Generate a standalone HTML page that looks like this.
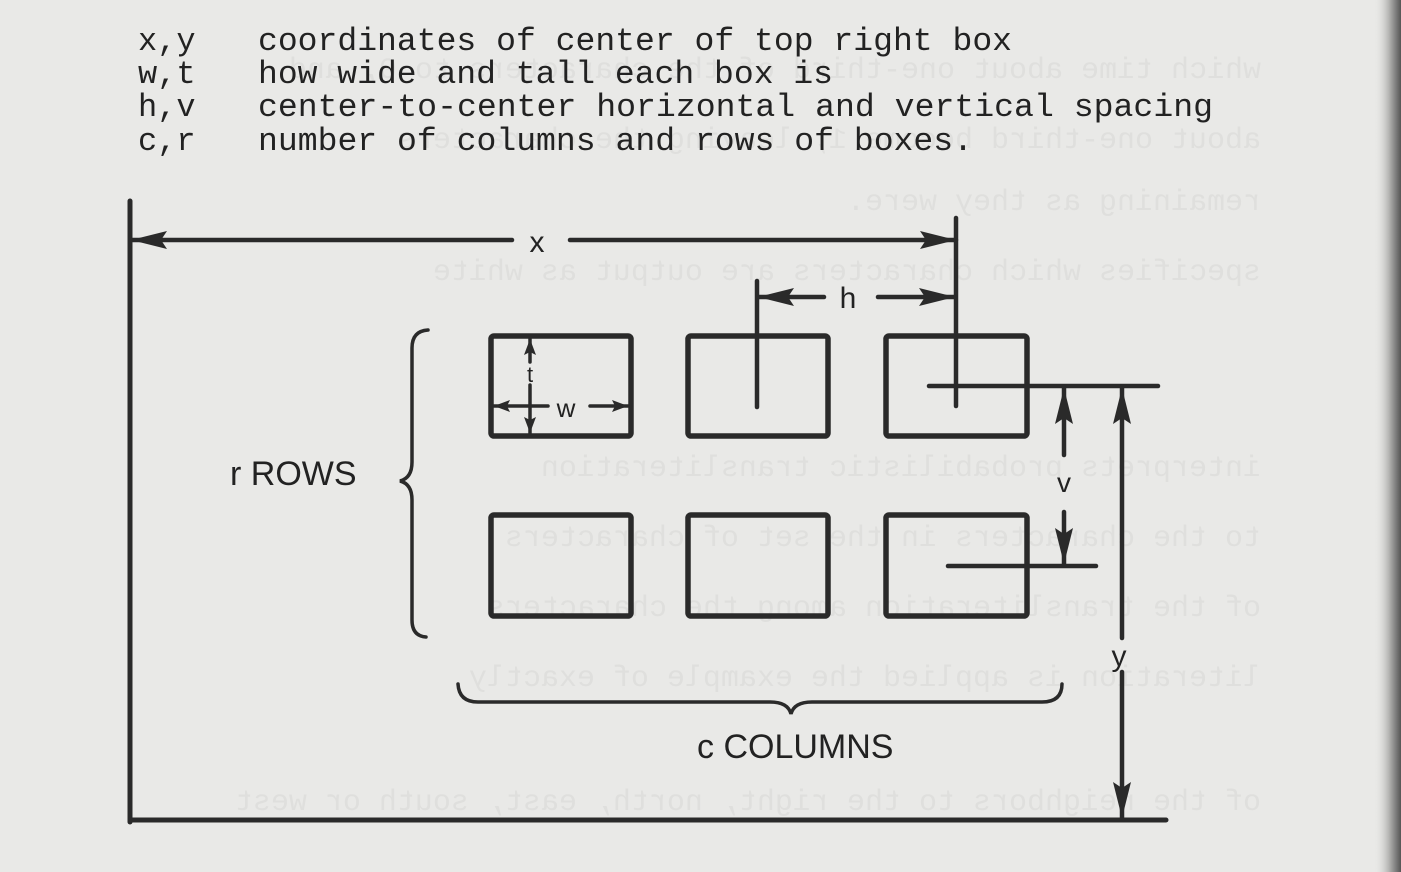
<!DOCTYPE html>
<html><head><meta charset="utf-8">
<style>
html,body{margin:0;padding:0;background:#e9e9e7;}
svg{display:block;}
</style></head>
<body>
<svg width="1401" height="872" viewBox="0 0 1401 872" xmlns="http://www.w3.org/2000/svg">
<defs>
<linearGradient id="edge" x1="0" x2="1" y1="0" y2="0">
<stop offset="0" stop-color="#e9e9e7" stop-opacity="0"/>
<stop offset="0.55" stop-color="#b5b5b3"/>
<stop offset="1" stop-color="#555"/>
</linearGradient>
<marker id="ahb" viewBox="0 0 36 18" refX="36" refY="9" markerWidth="36" markerHeight="18" markerUnits="userSpaceOnUse" orient="auto-start-reverse">
<path d="M0,0 L36,9 L0,18 L6,9 Z" fill="#2a2a2a"/>
</marker>
<marker id="ahs" viewBox="0 0 16 12" refX="16" refY="6" markerWidth="16" markerHeight="12" markerUnits="userSpaceOnUse" orient="auto-start-reverse">
<path d="M0,0 L16,6 L0,12 L3,6 Z" fill="#2a2a2a"/>
</marker>
</defs>
<rect width="1401" height="872" fill="#e9e9e7"/>
<rect x="1374" y="0" width="27" height="872" fill="url(#edge)"/>

<!-- faint bleed-through -->
<g font-family="Liberation Mono, monospace" font-size="30" fill="#dfdfdd" transform="translate(1401,0) scale(-1,1)">
<text x="140" y="78">which time about one-third of the characters to 0, and</text>
<text x="140" y="148">about one-third become 1, leaving the characters</text>
<text x="140" y="210">remaining as they were.</text>
<text x="140" y="280">specifies which characters are output as white</text>
<text x="140" y="476">interprets probabilistic transliteration</text>
<text x="140" y="546">to the characters in the set of characters</text>
<text x="140" y="616">of the transliteration among the characters</text>
<text x="140" y="686">literation is applied the example of exactly</text>
<text x="140" y="810">of the neighbors to the right, north, east, south or west</text>
</g>

<!-- legend -->
<g font-family="Liberation Mono, monospace" font-size="32" fill="#222">
<text x="138" y="50">x,y</text><text x="258" y="50" textLength="754" lengthAdjust="spacingAndGlyphs">coordinates of center of top right box</text>
<text x="138" y="83">w,t</text><text x="258" y="83" textLength="575" lengthAdjust="spacingAndGlyphs">how wide and tall each box is</text>
<text x="138" y="116">h,v</text><text x="258" y="116" textLength="955" lengthAdjust="spacingAndGlyphs">center-to-center horizontal and vertical spacing</text>
<text x="138" y="150">c,r</text><text x="258" y="150" textLength="715" lengthAdjust="spacingAndGlyphs">number of columns and rows of boxes.</text>
</g>

<g stroke="#2a2a2a" fill="none" stroke-linecap="round">
<line x1="130" y1="201" x2="130" y2="822" stroke-width="5"/>
<line x1="130" y1="820" x2="1166" y2="820" stroke-width="5"/>
<line x1="131" y1="240" x2="512" y2="240" stroke-width="4.5" marker-start="url(#ahb)"/>
<line x1="570" y1="240" x2="956" y2="240" stroke-width="4.5" marker-end="url(#ahb)"/>
<line x1="956" y1="218" x2="956" y2="406" stroke-width="4.5"/>
<line x1="757" y1="281" x2="757" y2="407" stroke-width="4.5"/>
<line x1="758" y1="297" x2="824" y2="297" stroke-width="4.5" marker-start="url(#ahb)"/>
<line x1="878" y1="297" x2="955" y2="297" stroke-width="4.5" marker-end="url(#ahb)"/>
<rect x="491" y="336" width="140" height="100" rx="3" stroke-width="5.5"/>
<rect x="688" y="336" width="140" height="100" rx="3" stroke-width="5.5"/>
<rect x="886" y="336" width="141" height="100" rx="3" stroke-width="5.5"/>
<rect x="491" y="515" width="140" height="101" rx="3" stroke-width="5.5"/>
<rect x="688" y="515" width="140" height="101" rx="3" stroke-width="5.5"/>
<rect x="886" y="515" width="141" height="101" rx="3" stroke-width="5.5"/>
<line x1="929" y1="386" x2="1158" y2="386" stroke-width="4.5"/>
<line x1="948" y1="566" x2="1096" y2="566" stroke-width="4.5"/>
<line x1="1064" y1="388" x2="1064" y2="455" stroke-width="4.5" marker-start="url(#ahb)"/>
<line x1="1064" y1="512" x2="1064" y2="564" stroke-width="4.5" marker-end="url(#ahb)"/>
<line x1="1122" y1="388" x2="1122" y2="638" stroke-width="4.5" marker-start="url(#ahb)"/>
<line x1="1122" y1="672" x2="1122" y2="818" stroke-width="4.5" marker-end="url(#ahb)"/>
<line x1="530" y1="339" x2="530" y2="362" stroke-width="3.5" marker-start="url(#ahs)"/>
<line x1="530" y1="385" x2="530" y2="433" stroke-width="3.5" marker-end="url(#ahs)"/>
<line x1="494" y1="406" x2="548" y2="406" stroke-width="3.5" marker-start="url(#ahs)"/>
<line x1="590" y1="406" x2="628" y2="406" stroke-width="3.5" marker-end="url(#ahs)"/>
<path d="M428,330 Q412,331 412,348 L412,462 Q412,478 400,481 Q412,484 412,500 L412,620 Q412,636 426,637" stroke-width="3.5"/>
<path d="M458,684 Q459,702 478,702 L770,702 Q788,702 791,714 Q794,702 812,702 L1042,702 Q1062,702 1062,684" stroke-width="3.5"/>
</g>

<g font-family="Liberation Sans, sans-serif" fill="#222">
<text x="537" y="252" font-size="30" text-anchor="middle">x</text>
<text x="848" y="308" font-size="30" text-anchor="middle">h</text>
<text x="530" y="382" font-size="22" text-anchor="middle">t</text>
<text x="566" y="417" font-size="26" text-anchor="middle">w</text>
<text x="1064" y="492" font-size="28" text-anchor="middle">v</text>
<text x="1119" y="666" font-size="30" text-anchor="middle">y</text>
<text x="230" y="485" font-size="34">r ROWS</text>
<text x="697" y="758" font-size="34">c COLUMNS</text>
</g>
</svg>
</body></html>
